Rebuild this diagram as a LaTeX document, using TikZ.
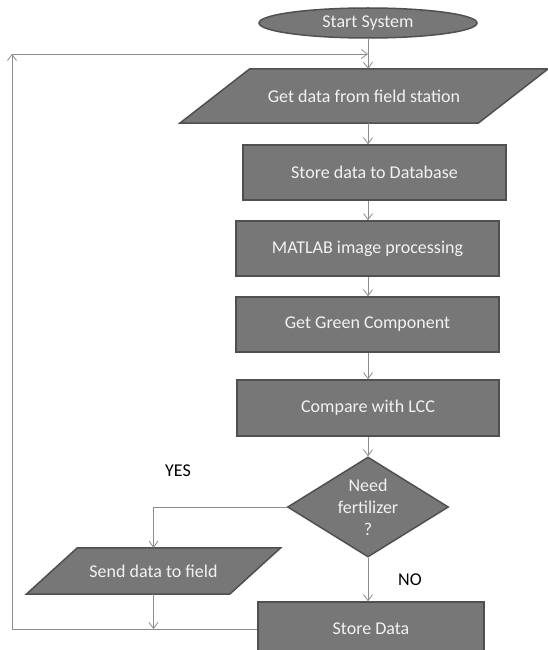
\documentclass[tikz,border=0pt]{standalone}
\usepackage{fontspec}
\setmainfont{Carlito}
\usetikzlibrary{shapes.geometric,arrows.meta,calc,backgrounds}
\definecolor{boxfill}{HTML}{777777}
\definecolor{boxline}{HTML}{505050}
\definecolor{boxtext}{HTML}{F2F2F2}
\definecolor{conn}{HTML}{8C8C8C}
\tikzset{
  box/.style={draw=boxline, line width=1.5pt, fill=boxfill, text=boxtext, rectangle, inner sep=0pt},
  plain/.style={text=boxtext, inner sep=0pt},
  shapeline/.style={draw=boxline, line width=1.5pt, fill=boxfill},
  arr/.style={draw=conn, line width=0.8pt, -{Straight Barb[length=6pt,width=9pt,line width=0.8pt]}},
  ln/.style={draw=conn, line width=0.8pt},
  lbl/.style={text=black, inner sep=0pt}
}
\begin{document}
\begin{tikzpicture}[x=1pt,y=-1pt, font=\fontsize{18}{22}\selectfont]
\useasboundingbox (0,0) rectangle (548,650);
% start
\node[ellipse, draw=boxline, line width=1.5pt, fill=boxfill, text=boxtext, minimum width=218pt, minimum height=30pt, inner sep=0pt] (start) at (368,23) {Start System};
% get data (parallelogram)
\node[plain, minimum width=298pt, minimum height=54pt] (get) at (364,96) {Get data from field station};
\node[box, minimum width=263pt, minimum height=55pt] (db) at (374.5,172.5) {Store data to Database};
\node[box, minimum width=263pt, minimum height=55pt] (mat) at (367.5,248.5) {MATLAB image processing};
\node[box, minimum width=263pt, minimum height=55pt] (green) at (367.5,324.5) {Get Green Component};
\node[box, minimum width=262pt, minimum height=56pt] (cmp) at (368,408) {Compare with LCC};
\node[diamond, draw=boxline, line width=1.5pt, fill=boxfill, minimum width=161pt, minimum height=100pt, inner sep=0pt] (need) at (368,507) {};
\node[plain, align=center, font=\fontsize{18}{22}\selectfont] (needtext) at (368,507) {Need\\fertilizer\\?};
\node[plain, minimum width=203pt, minimum height=46pt] (send) at (153.5,571) {Send data to field};
\node[box, minimum width=226pt, minimum height=54pt] (store) at (371,629) {Store Data};
\begin{scope}[on background layer]
\path[shapeline] ($(get.north west)+(35,0)$) -- ($(get.north east)+(35,0)$) -- ($(get.south east)+(-35,0)$) -- ($(get.south west)+(-35,0)$) -- cycle;
\path[shapeline] ($(send.north west)+(25.5,0)$) -- ($(send.north east)+(25.5,0)$) -- ($(send.south east)+(-25.5,0)$) -- ($(send.south west)+(-25.5,0)$) -- cycle;
\end{scope}
% labels
\node[lbl] (yes) at (178,471) {YES};
\node[lbl] (no) at (410,580) {NO};
% connectors
\coordinate (fb) at (12,54);
\draw[ln] (start.south) -- (start.south |- fb);
\draw[arr] (start.south |- fb) -- (get.north -| start.south);
\draw[arr] (get.south -| start.south) -- (db.north -| start.south);
\draw[arr] (db.south -| start.south) -- (mat.north -| start.south);
\draw[arr] (mat.south -| start.south) -- (green.north -| start.south);
\draw[arr] (green.south -| start.south) -- (cmp.north -| start.south);
\draw[arr] (cmp.south -| start.south) -- (need.north);
\draw[arr] (need.west) -| (send.north);
\draw[arr] (need.south) -- (need.south |- store.north);
\draw[arr] (send.south) -- (send.south |- store.west);
\draw[arr] (store.west) -| (fb);
\draw[arr] (fb) -- (fb -| start.south);
\end{tikzpicture}
\end{document}
